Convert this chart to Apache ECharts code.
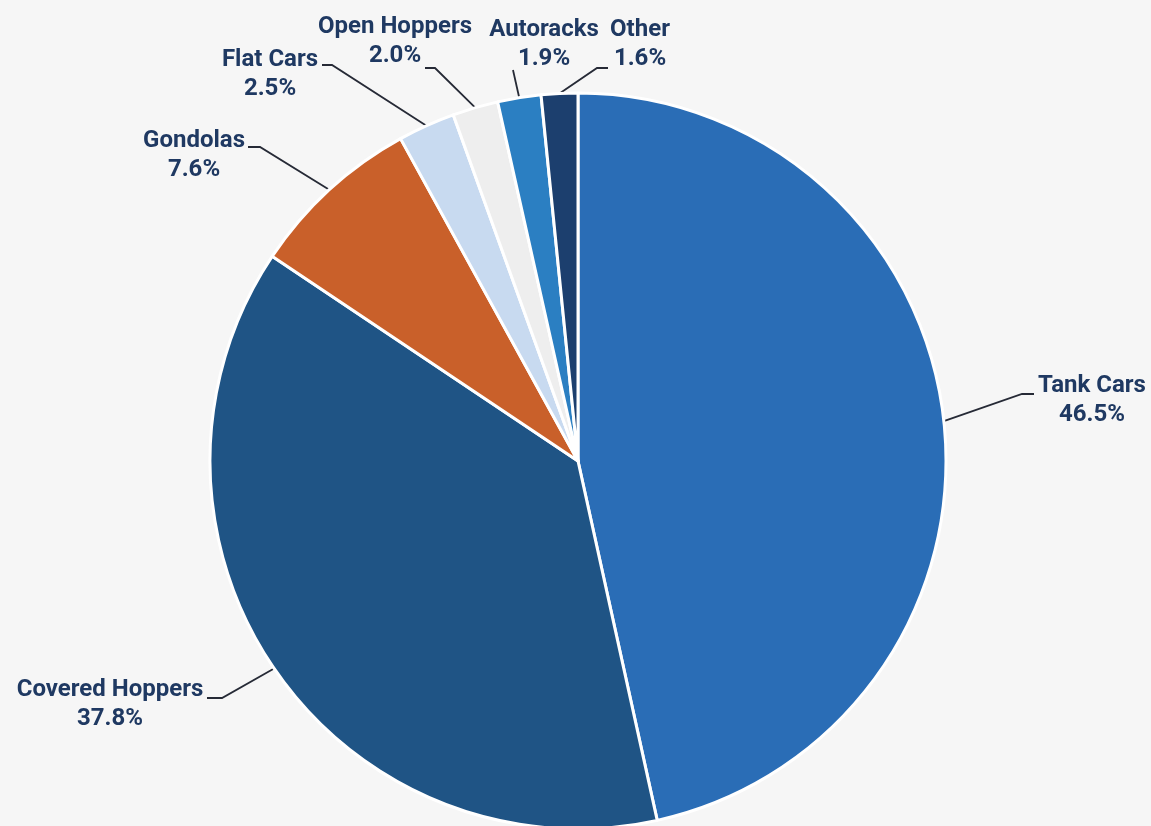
<!DOCTYPE html>
<html>
<head>
<meta charset="utf-8">
<title>Rail car fleet by type</title>
<script src="https://cdn.jsdelivr.net/npm/echarts@6/dist/echarts.min.js"></script>
<style>
  html, body { margin: 0; padding: 0; background: #f6f6f6; }
  #chart { width: 1151px; height: 826px; }
</style>
</head>
<body>
<div id="chart"></div>
<script>
// Share of the fleet by car type (percent)
const carTypes = ['Tank Cars', 'Covered Hoppers', 'Gondolas', 'Flat Cars', 'Open Hoppers', 'Autoracks', 'Other'];
const shares = [46.5, 37.8, 7.6, 2.5, 2.0, 1.9, 1.6];
const sliceColors = ['#2a6db6', '#1f5485', '#c9602a', '#c8daf0', '#eeeeee', '#2b7fc2', '#1c3f6e'];

// Where each label sits and where its leader line bends (elbow, then end next to the text)
const labelPlacement = {
  'Tank Cars':       { at: [1092, 400], line: [[1022, 394], [1034, 394]] },
  'Covered Hoppers': { at: [110, 704],  line: [[222, 698], [207, 698]] },
  'Gondolas':        { at: [194, 155],  line: [[260, 147], [248, 147]] },
  'Flat Cars':       { at: [270, 74],   line: [[332, 65], [322, 65]] },
  'Open Hoppers':    { at: [395, 41],   line: [[435, 68], [425, 68]] },
  'Autoracks':       { at: [544, 44],   line: [[513, 70]] },
  'Other':           { at: [640, 44],   line: [[597, 68], [608, 68]] }
};

const chart = echarts.init(document.getElementById('chart'), null, { renderer: 'canvas' });

chart.setOption({
  backgroundColor: '#f6f6f6',
  animation: false,
  series: [{
    type: 'pie',
    center: [578, 461],
    radius: 368,
    startAngle: 90,
    clockwise: true,
    avoidLabelOverlap: false,
    data: carTypes.map((name, i) => ({
      name: name,
      value: shares[i],
      itemStyle: { color: sliceColors[i] }
    })),
    itemStyle: { borderColor: '#ffffff', borderWidth: 3 },
    label: {
      show: true,
      position: 'outside',
      formatter: p => p.name + '\n' + p.value.toFixed(1) + '%',
      fontFamily: 'Roboto',
      fontWeight: 'bold',
      fontSize: 24,
      lineHeight: 29,
      color: '#1f3962',
      align: 'center'
    },
    labelLine: {
      show: true,
      length: 10,
      length2: 10,
      smooth: false,
      lineStyle: { color: '#262a36', width: 1.8 }
    },
    labelLayout: function (params) {
      const place = labelPlacement[carTypes[params.dataIndex]];
      const start = params.labelLinePoints ? params.labelLinePoints[0] : null;
      const out = {
        x: place.at[0],
        y: place.at[1],
        align: 'center',
        verticalAlign: 'middle'
      };
      if (start) {
        out.labelLinePoints = [start].concat(place.line);
      }
      return out;
    },
    emphasis: { disabled: true }
  }]
});
</script>
</body>
</html>
